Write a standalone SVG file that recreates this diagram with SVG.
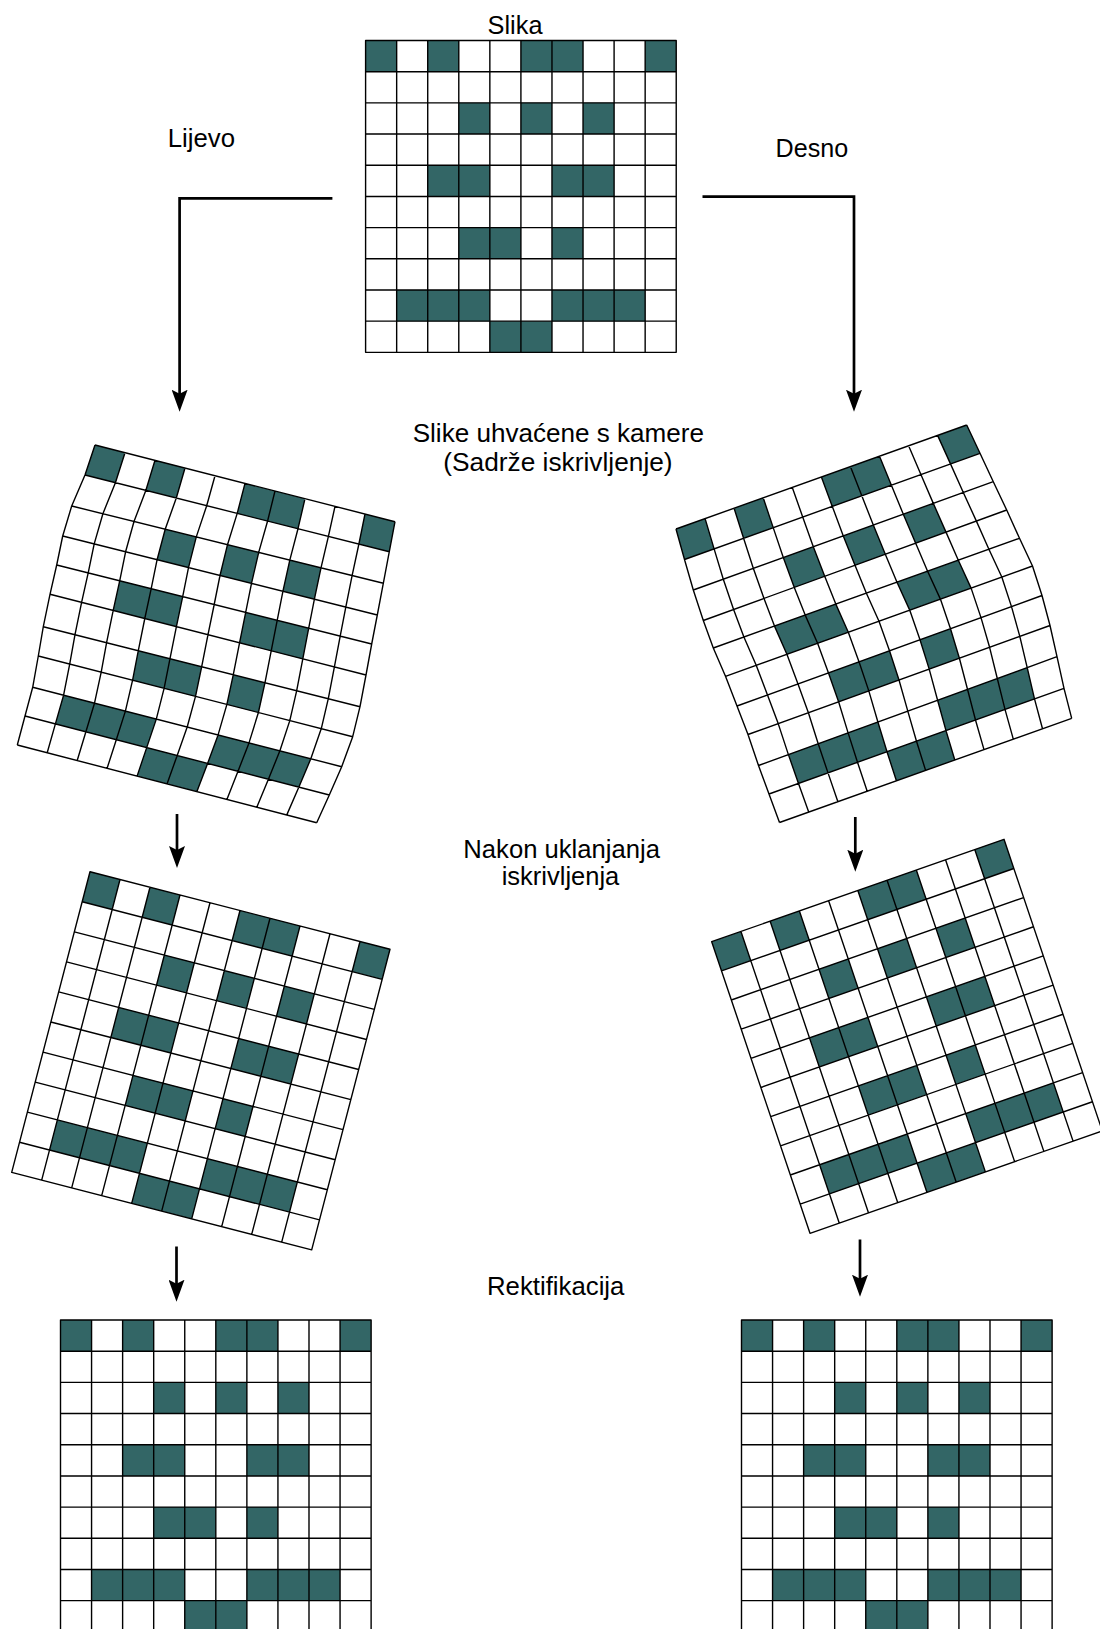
<svg xmlns="http://www.w3.org/2000/svg" width="1100" height="1629" viewBox="0 0 1100 1629">
<style>
.cell{fill:#336666;stroke:none}
.ln{fill:none;stroke:#000;stroke-width:1.4;stroke-linejoin:round;vector-effect:non-scaling-stroke}
.conn{fill:none;stroke:#000;stroke-width:2.7}
text{font-family:"Liberation Sans",Arial,sans-serif;font-size:25px;fill:#000}
</style>
<defs>
<marker id="ah" markerUnits="userSpaceOnUse" viewBox="0 0 22 16" markerWidth="22" markerHeight="16" refX="12" refY="8" orient="auto">
<path d="M0,0 L22,8 L0,16 L4,8 Z" fill="#000"/>
</marker>
<g id="grid">
<rect width="310" height="310" fill="#fff"/>
<path class="cell" d="M0,0h31v31h-31z M62,0h31v31h-31z M155,0h62v31h-62z M279,0h31v31h-31z M93,62h31v31h-31z M155,62h31v31h-31z M217,62h31v31h-31z M62,124h62v31h-62z M186,124h62v31h-62z M93,186h62v31h-62z M186,186h31v31h-31z M31,248h93v31h-93z M186,248h93v31h-93z M124,279h62v31h-62z"/>
<path class="ln" d="M0,0H310V310H0Z M0,31H310M0,62H310M0,93H310M0,124H310M0,155H310M0,186H310M0,217H310M0,248H310M0,279H310 M31,0V310M62,0V310M93,0V310M124,0V310M155,0V310M186,0V310M217,0V310M248,0V310M279,0V310"/>
</g>
</defs>
<rect width="1100" height="1629" fill="#fff"/>

<g id="slika">
<use href="#grid" transform="translate(365.6,40.5) scale(1.002,1.006)"/>
</g>

<g id="lijevo-kamera">
<path class="cell" d="M95,445L125,452.7L115.4,482.7L85,475Z M155,460.3L185,468L176.3,498L145.9,490.3Z M245,483.4L305,498.7L298,528.7L237.2,513.4Z M365,514L395,521.7L389.3,551.7L358.9,544Z M165.2,529.2L196.3,536.9L188.5,567.6L157.1,559.7Z M227.5,544.7L258.7,552.4L251.5,583.4L220,575.5Z M289.8,560.1L321,567.8L314.4,599.2L282.9,591.3Z M119.7,580.8L182.7,596.6L176.4,626.6L113.2,610.4Z M245.7,612.4L308.7,628.2L302.8,658.9L239.6,642.7Z M138.3,650.7L201.7,666.7L195.5,696.4L132.6,680.2Z M233.3,674.7L265,682.7L258.4,712.5L226.9,704.4Z M63.6,695.2L156.3,719.1L146.7,747.6L55.4,723.9Z M218.1,734.9L310.8,758.8L298.9,787.1L207.6,763.4Z M146.7,747.6L207.6,763.4L196.9,791.6L137.1,776.1Z"/>
<path class="ln" d="M95,445L395,521.7M85,475L389.3,551.7M71.7,506L383.3,583.3M62.7,536L377.3,615M56.7,565L371.7,644M50,594.3L366,675M43.3,626.7L360,706.7M38.3,656L352.7,736.7M32.7,687.3L341.7,766.7M25,716L329.3,795M17.3,745L316.7,822.7
M95,445L85,475L71.7,506L62.7,536L56.7,565L50,594.3L43.3,626.7L38.3,656L32.7,687.3L25,716L17.3,745
M125,452.7L115.4,482.7L102.9,513.7L94.2,543.9L88.2,572.9L81.6,602.4L75,634.7L69.7,664.1L63.6,695.2L55.4,723.9L47.2,752.8
M155,460.3L145.9,490.3L134,521.5L125.6,551.8L119.7,580.8L113.2,610.4L106.6,642.7L101.2,672.1L94.5,703.2L85.9,731.8L77.2,760.5
M185,468L176.3,498L165.2,529.2L157.1,559.7L151.2,588.7L144.8,618.5L138.3,650.7L132.6,680.2L125.4,711.1L116.3,739.7L107.1,768.3
M215,475.7L206.7,505.7L196.3,536.9L188.5,567.6L182.7,596.6L176.4,626.6L170,658.7L164.1,688.3L156.3,719.1L146.7,747.6L137.1,776.1
M245,483.4L237.2,513.4L227.5,544.7L220,575.5L214.2,604.5L208,634.7L201.7,666.7L195.5,696.4L187.2,727L177.2,755.5L167,783.9
M275,491L267.6,521L258.7,552.4L251.5,583.4L245.7,612.4L239.6,642.7L233.3,674.7L226.9,704.4L218.1,734.9L207.6,763.4L196.9,791.6
M305,498.7L298,528.7L289.8,560.1L282.9,591.3L277.2,620.3L271.2,650.8L265,682.7L258.4,712.5L249,742.9L238,771.3L226.9,799.4
M335,506.4L328.4,536.4L321,567.8L314.4,599.2L308.7,628.2L302.8,658.9L296.7,690.7L289.8,720.6L279.9,750.8L268.4,779.2L256.8,807.2
M365,514L358.9,544L352.1,575.6L345.8,607.1L340.2,636.1L334.4,666.9L328.3,698.7L321.3,728.6L310.8,758.8L298.9,787.1L286.8,814.9
M395,521.7L389.3,551.7L383.3,583.3L377.3,615L371.7,644L366,675L360,706.7L352.7,736.7L341.7,766.7L329.3,795L316.7,822.7"/>
</g>

<g id="desno-kamera">
<path class="cell" d="M676,529L705.1,518.6L714.1,548.9L684.5,559.5Z M734.1,508.2L763.2,497.8L773.2,527.6L743.6,538.3Z M821.4,477L879.5,456.2L891.4,485.2L832.3,506.4Z M937.6,435.4L966.7,425L980,453.3L950.5,463.9Z M783.3,557.5L813.3,546.7L824.7,576.3L794.3,587.4Z M843.3,535.9L873.3,525L885.3,554.2L855,565.3Z M903.3,514.2L933.3,503.4L946,532.1L915.7,543.2Z M774.5,626.1L835.8,604.1L848.3,632.2L786.9,654.2Z M897,582.2L958.3,560.2L971.1,588.1L909.7,610.1Z M828.5,672.9L889.5,650.8L899,680L838.6,701.8Z M920,639.7L950.5,628.7L959.4,658.2L929.2,669.1Z M788.4,754.6L877.9,722L887,751.7L798.5,783.4Z M937.6,700.2L1027.2,667.6L1034.5,698.9L946,730.6Z M887,751.7L946,730.6L954.8,760L896.4,780.8Z"/>
<path class="ln" d="M676,529L966.7,425M684.5,559.5L980,453.3M693.3,590L993.3,481.7M703.3,620.5L1006.7,510M713.3,648L1019.5,538.3M725.5,676.3L1032.5,566M737,706L1042,595.5M748,734.5L1050,625.5M758.5,765.5L1057,656.7M769,794L1064,688.3M779.5,822.5L1071.7,718.3
M676,529L684.5,559.5L693.3,590L703.3,620.5L713.3,648L725.5,676.3L737,706L748,734.5L758.5,765.5L769,794L779.5,822.5
M705.1,518.6L714.1,548.9L723.3,579.2L733.6,609.5L743.9,637L756.2,665.3L767.5,695L778.2,723.6L788.4,754.6L798.5,783.4L808.7,812.1
M734.1,508.2L743.6,538.3L753.3,568.3L764,598.4L774.5,626.1L786.9,654.2L798,683.9L808.4,712.7L818.2,743.7L828,772.9L837.9,801.7
M763.2,497.8L773.2,527.6L783.3,557.5L794.3,587.4L805.2,615.1L817.6,643.2L828.5,672.9L838.6,701.8L848.1,732.9L857.5,762.3L867.2,791.2
M792.3,487.4L802.7,517L813.3,546.7L824.7,576.3L835.8,604.1L848.3,632.2L859,661.8L868.8,690.9L877.9,722L887,751.7L896.4,780.8
M821.4,477L832.3,506.4L843.3,535.9L855,565.3L866.4,593.2L879,621.2L889.5,650.8L899,680L907.8,711.1L916.5,741.2L925.6,770.4
M850.4,466.6L861.8,495.8L873.3,525L885.3,554.2L897,582.2L909.7,610.1L920,639.7L929.2,669.1L937.6,700.2L946,730.6L954.8,760
M879.5,456.2L891.4,485.2L903.3,514.2L915.7,543.2L927.6,571.2L940.4,599.1L950.5,628.7L959.4,658.2L967.5,689.3L975.5,720L984,749.6
M908.6,445.8L920.9,474.5L933.3,503.4L946,532.1L958.3,560.2L971.1,588.1L981,617.6L989.6,647.3L997.3,678.5L1005,709.4L1013.3,739.1
M937.6,435.4L950.5,463.9L963.3,492.5L976.4,521.1L988.9,549.3L1001.8,577L1011.5,606.6L1019.8,636.4L1027.2,667.6L1034.5,698.9L1042.5,728.7
M966.7,425L980,453.3L993.3,481.7L1006.7,510L1019.5,538.3L1032.5,566L1042,595.5L1050,625.5L1057,656.7L1064,688.3L1071.7,718.3"/>
</g>

<g id="lijevo-ispravljeno">
<use href="#grid" transform="matrix(0.9677,0.2503,-0.2526,0.9697,90,871.7)"/>
</g>
<g id="desno-ispravljeno">
<use href="#grid" transform="matrix(0.9429,-0.3303,0.3171,0.9406,711.7,941.7)"/>
</g>

<g id="lijevo-rektificirano">
<use href="#grid" transform="translate(60.5,1320) scale(1.002,1.006)"/>
</g>
<g id="desno-rektificirano">
<use href="#grid" transform="translate(741.5,1320) scale(1.002,1.006)"/>
</g>

<g id="connectors">
<path class="conn" d="M332.4,198.3H179.6V401.7" marker-end="url(#ah)"/>
<path class="conn" d="M702.5,196.7H854V401.7" marker-end="url(#ah)"/>
<path class="conn" d="M177,814V858" marker-end="url(#ah)"/>
<path class="conn" d="M855.3,817V861.7" marker-end="url(#ah)"/>
<path class="conn" d="M176.5,1246.5V1291.7" marker-end="url(#ah)"/>
<path class="conn" d="M860,1239.5V1286.7" marker-end="url(#ah)"/>
</g>

<g id="labels">
<text x="487.6" y="34.3" textLength="54.9" lengthAdjust="spacingAndGlyphs">Slika</text>
<text x="167.7" y="147" textLength="67.3" lengthAdjust="spacingAndGlyphs">Lijevo</text>
<text x="775.6" y="157.3" textLength="72.6" lengthAdjust="spacingAndGlyphs">Desno</text>
<text x="412.7" y="441.7" textLength="291.3" lengthAdjust="spacingAndGlyphs">Slike uhvaćene s kamere</text>
<text x="443.3" y="471" textLength="229.3" lengthAdjust="spacingAndGlyphs">(Sadrže iskrivljenje)</text>
<text x="463.3" y="857.7" textLength="196.7" lengthAdjust="spacingAndGlyphs">Nakon uklanjanja</text>
<text x="501.7" y="885" textLength="117.6" lengthAdjust="spacingAndGlyphs">iskrivljenja</text>
<text x="487" y="1295" textLength="137.4" lengthAdjust="spacingAndGlyphs">Rektifikacija</text>
</g>
</svg>
